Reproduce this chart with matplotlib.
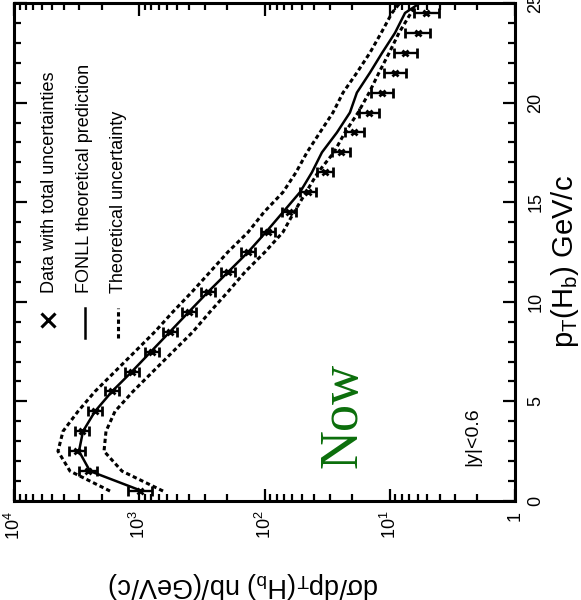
import matplotlib
matplotlib.use('Agg')
import matplotlib.pyplot as plt
from matplotlib.ticker import FixedLocator, FixedFormatter, NullFormatter, MultipleLocator, LogLocator

plt.rcParams['font.family'] = ['Liberation Sans', 'DejaVu Sans']
plt.rcParams['mathtext.fontset'] = 'custom'
plt.rcParams['mathtext.rm'] = 'Liberation Sans'
plt.rcParams['mathtext.it'] = 'Liberation Sans:italic'
plt.rcParams['mathtext.default'] = 'regular'

# ---------------- data ----------------
pt_data = [0.5, 1.5, 2.5, 3.5, 4.5, 5.5, 6.5, 7.5, 8.5, 9.5, 10.5, 11.5, 12.5,
           13.5, 14.5, 15.5, 16.5, 17.5, 18.5, 19.5, 20.5, 21.5, 22.5, 23.5, 24.5]
sigma_data = [990, 2565, 3140, 2865, 2256, 1650, 1143, 790, 568, 401, 282, 195, 135,
              94, 64, 45, 33, 24.5, 19.2, 14.6, 11.5, 9.1, 7.5, 6.0, 5.1]
rel_err = [0.25, 0.17, 0.15, 0.14, 0.14, 0.14, 0.14, 0.14, 0.14, 0.14, 0.14, 0.14, 0.14,
           0.14, 0.14, 0.15, 0.16, 0.18, 0.19, 0.20, 0.22, 0.22, 0.24, 0.25, 0.26]

pt_theory = [0.5, 1.5, 2.5, 3.5, 4.5, 5.5, 6.5, 7.5, 8.5, 9.5, 10.5, 11.5, 12.5,
             13.5, 14.5, 15.5, 16.5, 17.5, 18.5, 19.5, 20.5, 21.5, 22.5, 23.5, 24.5, 25.0]
fonll_central = [950, 2473, 3028, 2812, 2256, 1650, 1143, 806, 568, 401, 282, 195, 135,
                 97.3, 71.2, 52.1, 41.8, 34.8, 26.4, 20.8, 18.3, 14.4, 11.5, 9.08, 7.55, 5.73]
fonll_upper = [1712, 3572, 4455, 4063, 3083, 2256, 1562, 1081, 749, 538, 379, 272, 196,
               135, 101, 71.2, 56.0, 45.8, 36.1, 28.4, 23.6, 18.3, 14.4, 11.7, 9.6, 8.3]
fonll_lower = [646, 1373, 1911, 1843, 1562, 1122, 777, 538, 372, 272, 196, 143, 99.1,
               71.2, 58.1, 46.6, 37.4, 27.9, 22.8, 17.9, 14.6, 12.2, 10.1, 8.44, 6.77, 5.95]

log_ticks = [1e4, 1e3, 1e2, 1e1, 1]
log_ticklabels = ['$10^4$', '$10^3$', '$10^2$', '$10^1$', '1']
pt_ticks = [0, 5, 10, 15, 20, 25]
pt_ticklabels = ['0', '5', '10', '15', '20', '25']

legend_labels = ['Data with total uncertainties',
                 'FONLL theoretical prediction',
                 'Theoretical uncertainty']

# ---------------- figure ----------------
fig = plt.figure(figsize=(5.81, 6.0), dpi=100)
ax = fig.add_axes([14 / 581, 99 / 600, 501 / 581, 498 / 600])
ax.set_xscale('log')
ax.set_xlim(1e4, 1)
ax.set_ylim(0, 25)

dash = (0, (1.4, 1.0))
ax.plot(fonll_upper, pt_theory, color='black', lw=2.2, ls=dash)
ax.plot(fonll_lower, pt_theory, color='black', lw=2.2, ls=dash)
ax.plot(fonll_central, pt_theory, color='black', lw=1.8, ls='-')

xlo = [v - v / (1 + f) for v, f in zip(sigma_data, rel_err)]
xhi = [v * f for v, f in zip(sigma_data, rel_err)]
ax.errorbar(sigma_data, pt_data, xerr=[xlo, xhi], fmt='x', color='black',
            ms=5, mew=2.0, elinewidth=1.7, capsize=3.5, capthick=1.7)

# axes styling
for sp in ax.spines.values():
    sp.set_linewidth(2.2)

ax.xaxis.set_major_locator(FixedLocator(log_ticks))
ax.xaxis.set_major_formatter(FixedFormatter(log_ticklabels))
ax.xaxis.set_minor_locator(LogLocator(base=10, subs=range(2, 10), numticks=20))
ax.xaxis.set_minor_formatter(NullFormatter())
ax.yaxis.set_major_locator(FixedLocator(pt_ticks))
ax.yaxis.set_major_formatter(FixedFormatter(pt_ticklabels))
ax.yaxis.set_minor_locator(MultipleLocator(1))

ax.tick_params(which='both', direction='in', top=True, bottom=True, left=True, right=True,
               labelleft=False, labelright=True, labelbottom=True, labeltop=False)
ax.tick_params(which='major', length=9, width=1.6, labelsize=13)
ax.tick_params(which='minor', length=5, width=1.6)
ax.tick_params(axis='x', which='major', pad=7)
ax.tick_params(axis='y', which='major', pad=9)

for lab in ax.get_xticklabels():
    lab.set_rotation(90)
    lab.set_va('top')
    lab.set_ha('center')
for lab in ax.get_yticklabels():
    lab.set_rotation(90)
    lab.set_va('center')
    lab.set_ha('left')

# axis titles
fig.text(565 / 581, 1 - 262 / 600, r'p$_T$(H$_b$) GeV/c', rotation=90,
         fontsize=21, ha='center', va='center')
fig.text(244 / 581, 1 - 585 / 600, r'dσ/dp$_T$(H$_b$) nb/(GeV/c)', rotation=180,
         fontsize=19.5, ha='center', va='center')

# legend (rotated)
tr = ax.transAxes
ax.plot([0.068], [0.363], marker='x', color='black', ms=10, mew=2.2, transform=tr, clip_on=False)
ax.plot([0.141, 0.141], [0.327, 0.388], color='black', lw=1.8, transform=tr)
ax.plot([0.208, 0.208], [0.327, 0.388], color='black', lw=2.2, ls=dash, transform=tr)
for xf, txt in zip([0.070, 0.140, 0.208], legend_labels):
    ax.text(xf, 0.418, txt, transform=tr, rotation=90, fontsize=13,
            ha='center', va='bottom')

ax.text(0.657, 0.171, 'Now', transform=tr, rotation=90, fontsize=39,
        color='#0b6e0b', family='Liberation Serif', ha='center', va='center')
ax.text(0.916, 0.129, '|y|<0.6', transform=tr, rotation=90, fontsize=14,
        ha='center', va='center')

fig.savefig('out.png', dpi=100)
